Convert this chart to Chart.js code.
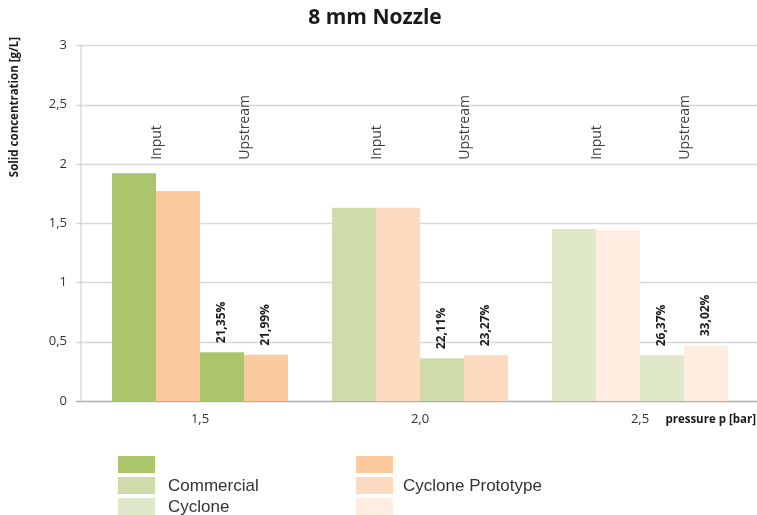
<!DOCTYPE html>
<html>
<head>
<meta charset="utf-8">
<script src="https://cdn.jsdelivr.net/npm/chart.js@4.4.1/dist/chart.umd.min.js"></script>
<style>
  body { margin: 0; background: #fff; }
  #wrap { width: 757px; height: 515px; }
</style>
</head>
<body>
<div id="wrap"><canvas id="nozzleChart" width="757" height="515"></canvas></div>
<script>
// pressure categories
const pressures = ['1,5', '2,0', '2,5'];

// solid concentration [g/L]
const inputCommercial = [1.92, 1.63, 1.45];
const inputPrototype = [1.77, 1.63, 1.44];
const upstreamCommercial = [0.41, 0.36, 0.385];
const upstreamPrototype = [0.39, 0.385, 0.47];

// labels above the upstream bars
const shareCommercial = ['21,35%', '22,11%', '26,37%'];
const sharePrototype = ['21,99%', '23,27%', '33,02%'];

const yTicks = [0, 0.5, 1, 1.5, 2, 2.5, 3];

// one shade per pressure
const greens = ['#abc56d', '#cfdcaa', '#e0e8ca'];
const oranges = ['#fcca9f', '#fddbc1', '#feede0'];

const fmt = v => String(v).replace('.', ',');

// grid lines and axis lines drawn a bit wider than the chart area
const gridPlugin = {
  id: 'gridPlugin',
  beforeDatasetsDraw(chart) {
    const ctx = chart.ctx;
    const y = chart.scales.y;
    const area = chart.chartArea;
    ctx.save();
    ctx.lineWidth = 1.5;
    yTicks.forEach(t => {
      const py = Math.round(y.getPixelForValue(t)) + 0.5;
      ctx.strokeStyle = t === 0 ? '#b0b0b0' : '#d9d9d9';
      ctx.beginPath();
      ctx.moveTo(76, py);
      ctx.lineTo(757, py);
      ctx.stroke();
    });
    ctx.strokeStyle = '#c8c8c8';
    ctx.lineWidth = 1;
    ctx.beginPath();
    ctx.moveTo(81, area.top);
    ctx.lineTo(81, area.bottom);
    ctx.stroke();
    ctx.restore();
  }
};

const labelPlugin = {
  id: 'labelPlugin',
  afterDatasetsDraw(chart) {
    const ctx = chart.ctx;
    const y = chart.scales.y;
    ctx.save();

    // Input / Upstream headers
    const baseY = y.getPixelForValue(2) - 4;
    ctx.fillStyle = '#404040';
    ctx.font = '14px "Open Sans"';
    ctx.textAlign = 'left';
    ctx.textBaseline = 'middle';
    for (let j = 0; j < pressures.length; j++) {
      const b0 = chart.getDatasetMeta(0).data[j];
      const b1 = chart.getDatasetMeta(1).data[j];
      const b2 = chart.getDatasetMeta(2).data[j];
      const b3 = chart.getDatasetMeta(3).data[j];
      [[(b0.x + b1.x) / 2 + 1, 'Input'], [(b2.x + b3.x) / 2 + 1, 'Upstream']].forEach(([x, txt]) => {
        ctx.save();
        ctx.translate(x, baseY);
        ctx.rotate(-Math.PI / 2);
        ctx.fillText(txt, 0, 0);
        ctx.restore();
      });
    }

    // percentages
    ctx.fillStyle = '#1a1a1a';
    ctx.font = 'bold 12px "Open Sans"';
    [[2, shareCommercial], [3, sharePrototype]].forEach(([ds, labels]) => {
      chart.getDatasetMeta(ds).data.forEach((bar, j) => {
        ctx.save();
        ctx.translate(bar.x, bar.y - 9);
        ctx.rotate(-Math.PI / 2);
        ctx.fillText(labels[j], 0, 0);
        ctx.restore();
      });
    });

    // axis titles
    ctx.fillStyle = '#1a1a1a';
    ctx.font = 'bold 11.5px "Open Sans"';
    ctx.save();
    ctx.translate(15, 107);
    ctx.rotate(-Math.PI / 2);
    ctx.textAlign = 'center';
    ctx.fillText('Solid concentration [g/L]', 0, 0);
    ctx.restore();
    ctx.textAlign = 'right';
    ctx.fillText('pressure p [bar]', 756, 420);

    // legend
    const rows = [456, 477, 498];
    rows.forEach((ry, i) => {
      ctx.fillStyle = greens[i];
      ctx.fillRect(118, ry, 37, 17);
      ctx.fillStyle = oranges[i];
      ctx.fillRect(356, ry, 37, 17);
    });
    ctx.fillStyle = '#333';
    ctx.font = '17px "Liberation Sans"';
    ctx.textAlign = 'left';
    ctx.fillText('Commercial', 168, rows[1] + 9);
    ctx.fillText('Cyclone', 168, rows[2] + 9);
    ctx.fillText('Cyclone Prototype', 403, rows[1] + 9);
    ctx.restore();
  }
};

new Chart(document.getElementById('nozzleChart').getContext('2d'), {
  type: 'bar',
  data: {
    labels: pressures,
    datasets: [
      { label: 'Input Commercial', data: inputCommercial, backgroundColor: greens },
      { label: 'Input Prototype', data: inputPrototype, backgroundColor: oranges },
      { label: 'Upstream Commercial', data: upstreamCommercial, backgroundColor: greens },
      { label: 'Upstream Prototype', data: upstreamPrototype, backgroundColor: oranges },
    ],
  },
  options: {
    responsive: false,
    animation: false,
    devicePixelRatio: 1,
    layout: { padding: { left: 0, right: 7, top: 0, bottom: 0 } },
    datasets: { bar: { categoryPercentage: 0.8, barPercentage: 1.0, borderWidth: 0 } },
    plugins: {
      legend: { display: false },
      tooltip: { enabled: false },
      title: {
        display: true,
        text: '8 mm Nozzle',
        color: '#1a1a1a',
        font: { family: '"Open Sans"', size: 21, weight: 'bold' },
        padding: { top: 5, bottom: 15 },
      },
    },
    scales: {
      x: {
        grid: { display: false, drawTicks: false },
        border: { display: false },
        ticks: { color: '#333', font: { family: '"Open Sans"', size: 13 }, padding: 10 },
        afterFit: s => { s.height = 114; },
      },
      y: {
        min: 0,
        max: 3,
        grid: { display: false, drawTicks: false },
        border: { display: false },
        afterBuildTicks: s => { s.ticks = yTicks.map(v => ({ value: v })); },
        ticks: { color: '#333', font: { family: '"Open Sans"', size: 13 }, padding: 23, callback: v => fmt(v) },
        afterFit: s => { s.width = 90; },
      },
    },
  },
  plugins: [gridPlugin, labelPlugin],
});
</script>
</body>
</html>
